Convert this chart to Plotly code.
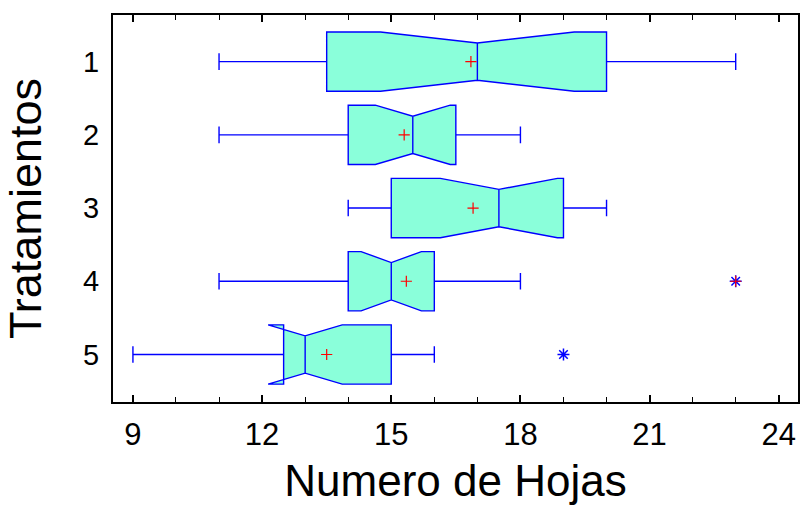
import plotly.graph_objects as go

# ---- data ----
tratamientos = [1, 2, 3, 4, 5]
tick_text = ["1", "2", "3", "4", "5"]
lower_whisker = [11, 11, 14, 11, 9]
q1_vals = [13.5, 14.0, 15.0, 14.0, 12.5]
median_vals = [17.0, 15.5, 17.5, 15.0, 13.0]
q3_vals = [20.0, 16.5, 19.0, 16.0, 15.0]
upper_whisker = [23, 18, 20, 18, 16]
mean_vals = [16.85, 15.3, 16.9, 15.35, 13.5]
notch_half = [2.25, 0.87, 1.36, 0.70, 0.86]
outlier_x = [23, 19]
outlier_y = [4, 5]
far_outlier_x = [23]
far_outlier_y = [4]
x_tick_vals = [9, 12, 15, 18, 21, 24]

fig = go.Figure()

fig.add_trace(go.Box(
    orientation="h",
    y=tratamientos,
    q1=q1_vals,
    median=median_vals,
    q3=q3_vals,
    lowerfence=lower_whisker,
    upperfence=upper_whisker,
    notchspan=notch_half,
    notched=True,
    notchwidth=0.185,
    width=0.81,
    whiskerwidth=0.28,
    fillcolor="rgb(138,255,218)",
    line=dict(color="rgb(0,0,255)", width=1.4),
    boxpoints=False,
    hoverinfo="skip",
    showlegend=False,
))

fig.add_trace(go.Scatter(
    x=mean_vals, y=tratamientos, mode="markers",
    marker=dict(symbol="cross-thin", size=8, line=dict(color="red", width=1.2)),
    showlegend=False, hoverinfo="skip",
))

fig.add_trace(go.Scatter(
    x=outlier_x, y=outlier_y, mode="markers",
    marker=dict(symbol="asterisk", size=10, line=dict(color="rgb(0,0,255)", width=1.5)),
    showlegend=False, hoverinfo="skip",
))

fig.add_trace(go.Scatter(
    x=far_outlier_x, y=far_outlier_y, mode="markers",
    marker=dict(symbol="cross-thin", size=8, line=dict(color="red", width=1.2)),
    showlegend=False, hoverinfo="skip",
))

font_family = "Liberation Sans, Arial, sans-serif"

fig.update_layout(
    width=802, height=506,
    margin=dict(l=113, r=2, t=15, b=104),
    paper_bgcolor="white", plot_bgcolor="white",
    font=dict(family=font_family, color="black"),
    xaxis=dict(
        range=[8.537, 24.447],
        tickvals=x_tick_vals,
        ticks="inside", ticklen=7, tickwidth=1.5, tickcolor="black",
        minor=dict(dtick=1, ticks="inside", ticklen=5, tickwidth=1.2, tickcolor="black", showgrid=False),
        showgrid=False, zeroline=False,
        showline=True, linecolor="black", linewidth=2, mirror="ticks",
        tickfont=dict(size=31, color="black"),
        ticklabelstandoff=4,
        title=dict(text="Numero de Hojas", font=dict(size=44, color="black"), standoff=14),
    ),
    yaxis=dict(
        range=[5.649, 0.363],
        tickvals=tratamientos, ticktext=tick_text,
        ticks="", showgrid=False, zeroline=False,
        showline=True, linecolor="black", linewidth=2, mirror=True,
        tickfont=dict(size=29, color="black"),
        ticklabelstandoff=6,
        title=dict(text="Tratamientos", font=dict(size=45, color="black"), standoff=29),
    ),
)

fig.write_html("out.html", config={"displayModeBar": False},
               post_script="document.body.style.margin='0';")
